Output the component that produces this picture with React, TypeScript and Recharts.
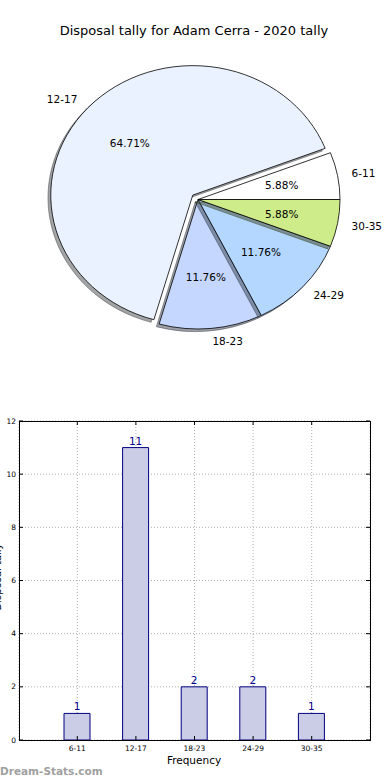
import React from 'react';
import { PieChart, Pie, BarChart, Bar, XAxis, YAxis, CartesianGrid, LabelList } from 'recharts';

const CATEGORIES = ['6-11', '12-17', '18-23', '24-29', '30-35'];
const COUNTS = [1, 11, 2, 2, 1];
const SLICE_COLORS = ['#ffffff', '#ebf2ff', '#c5d7ff', '#b4d7ff', '#cfec8a'];
const EXPLODE = [0, 0.05, 0, 0, 0];
const Y_TICKS = [0, 2, 4, 6, 8, 10, 12];

const TITLE = 'Disposal tally for Adam Cerra - 2020 tally';
const FONT = '"DejaVu Sans", sans-serif';

// pie geometry (matplotlib draws it as an ellipse here); recharts adds a 5px margin
const PIE_CX = 193;
const PIE_CY = 194.5;
const RX = 142;
const RY = 129.5;
const K = RY / RX;

// bar chart plot box
const PLOT_LEFT = 19;
const PLOT_RIGHT = 370;
const PLOT_TOP = 21;
const PLOT_BOTTOM = 340;

const pieData = CATEGORIES.map((name, i) => ({
  name,
  value: COUNTS[i],
  fill: SLICE_COLORS[i],
  explode: EXPLODE[i],
}));

const barData = CATEGORIES.map((name, i) => ({ name, value: COUNTS[i] }));

const RAD = Math.PI / 180;

const wedgePath = (cx: number, cy: number, rx: number, ry: number, a0: number, a1: number) => {
  const x1 = cx + rx * Math.cos(a0 * RAD);
  const y1 = cy - ry * Math.sin(a0 * RAD);
  const x2 = cx + rx * Math.cos(a1 * RAD);
  const y2 = cy - ry * Math.sin(a1 * RAD);
  const large = a1 - a0 > 180 ? 1 : 0;
  return `M${cx},${cy} L${x1},${y1} A${rx},${ry} 0 ${large} 0 ${x2},${y2} Z`;
};

const origin = (props: any) => {
  const ex = (props.payload?.explode ?? props.explode ?? 0) * RX;
  const m = props.midAngle * RAD;
  return {
    ox: props.cx + ex * Math.cos(m),
    oy: props.cy - ex * K * Math.sin(m),
  };
};

const shade = (hex: string) => {
  const n = parseInt(hex.slice(1), 16);
  const r = Math.round(((n >> 16) & 255) * 0.3);
  const g = Math.round(((n >> 8) & 255) * 0.3);
  const b = Math.round((n & 255) * 0.3);
  return `rgb(${r},${g},${b})`;
};

// each wedge is drawn with its own shadow first, so later shadows lie on earlier wedges
const Wedge = (props: any) => {
  const { ox, oy } = origin(props);
  const fill = props.payload?.fill ?? props.fill;
  const c = shade(fill);
  return (
    <g>
      <path
        d={wedgePath(ox - 2.8, oy + 2.6, RX, RY, props.startAngle, props.endAngle)}
        fill={c}
        stroke={c}
        strokeWidth={1}
        fillOpacity={0.5}
        strokeOpacity={0.5}
      />
      <path
        d={wedgePath(ox, oy, RX, RY, props.startAngle, props.endAngle)}
        fill={fill}
        stroke="#000"
        strokeWidth={0.8}
        strokeLinejoin="round"
      />
    </g>
  );
};

const renderPieLabel = (props: any) => {
  const { ox, oy } = origin(props);
  const m = props.midAngle * RAD;
  const c = Math.cos(m);
  const s = Math.sin(m);
  const lx = ox + 1.1 * RX * c;
  const ly = oy - 1.1 * RY * s;
  const px = ox + 0.6 * RX * c;
  const py = oy - 0.6 * RY * s;
  return (
    <g key={`lbl-${props.name}`}>
      <text x={lx} y={ly} textAnchor={c > 0 ? 'start' : 'end'} dominantBaseline="central"
        fontSize={10.5} fontFamily={FONT} fill="#000">
        {props.name}
      </text>
      <text x={px} y={py} textAnchor="middle" dominantBaseline="central"
        fontSize={10.5} fontFamily={FONT} fill="#000">
        {`${((props.percent || 0) * 100).toFixed(2)}%`}
      </text>
    </g>
  );
};

const YTick = (props: any) => {
  const { x, y, payload } = props;
  return (
    <g>
      <text x={x} y={y} textAnchor="end" dominantBaseline="central" fontSize={7.5} fontFamily={FONT} fill="#000">
        {payload.value}
      </text>
      <line x1={PLOT_LEFT} x2={PLOT_LEFT + 4} y1={y} y2={y} stroke="#000" strokeWidth={1} />
      <line x1={PLOT_RIGHT - 4} x2={PLOT_RIGHT} y1={y} y2={y} stroke="#000" strokeWidth={1} />
    </g>
  );
};

const XTick = (props: any) => {
  const { x, payload } = props;
  return (
    <g>
      <text x={x} y={PLOT_BOTTOM + 8} textAnchor="middle" dominantBaseline="central" fontSize={7.5} fontFamily={FONT} fill="#000">
        {payload.value}
      </text>
      <line x1={x} x2={x} y1={PLOT_BOTTOM - 4} y2={PLOT_BOTTOM} stroke="#000" strokeWidth={1} />
      <line x1={x} x2={x} y1={PLOT_TOP} y2={PLOT_TOP + 4} stroke="#000" strokeWidth={1} />
    </g>
  );
};

const App: React.FC = () => {
  return (
    <div style={{ position: 'absolute', left: 0, top: 0, width: 390, height: 780, background: '#fff', fontFamily: FONT }}>
      <div style={{ position: 'absolute', left: 0, top: 0 }}>
        <PieChart width={390} height={380}>
          <Pie
            data={pieData}
            dataKey="value"
            nameKey="name"
            cx={PIE_CX}
            cy={PIE_CY}
            outerRadius={RX}
            startAngle={0}
            endAngle={360}
            shape={Wedge}
            label={renderPieLabel}
            labelLine={false}
            isAnimationActive={false}
          />
        </PieChart>
      </div>

      <div style={{ position: 'absolute', left: 0, top: 400 }}>
        <BarChart width={390} height={380} data={barData} margin={{ top: PLOT_TOP, right: 390 - PLOT_RIGHT, bottom: 0, left: 0 }}>
          <CartesianGrid stroke="#b0b0b0" strokeDasharray="1 2" />
          <XAxis
            dataKey="name"
            height={40}
            padding={{ left: 29, right: 29 }}
            axisLine={false}
            tickLine={false}
            tick={<XTick />}
            interval={0}
          />
          <YAxis
            width={PLOT_LEFT}
            domain={[0, 12]}
            ticks={Y_TICKS}
            axisLine={false}
            tickLine={false}
            tickSize={0}
            tickMargin={3}
            tick={<YTick />}
            interval={0}
          />
          <Bar dataKey="value" barSize={26} fill="#cbcce5" stroke="#000080" strokeWidth={1} isAnimationActive={false}>
            <LabelList dataKey="value" position="top" offset={3} fill="#00008b" fontSize={10.5} fontFamily={FONT} />
          </Bar>
        </BarChart>
        <div style={{
          position: 'absolute', left: PLOT_LEFT, top: PLOT_TOP, width: PLOT_RIGHT - PLOT_LEFT - 1,
          height: PLOT_BOTTOM - PLOT_TOP - 1, border: '1px solid #000', pointerEvents: 'none',
        }} />
      </div>

      <svg width={390} height={780} style={{ position: 'absolute', left: 0, top: 0, pointerEvents: 'none' }}>
        <text x={194} y={30} textAnchor="middle" dominantBaseline="central" fontSize={13} fontFamily={FONT} fill="#000">
          {TITLE}
        </text>
        <text x={1} y={577} transform="rotate(-90, 1, 577)" textAnchor="middle" fontSize={10} fontFamily={FONT} fill="#000">
          Disposal tally
        </text>
        <text x={194} y={760} textAnchor="middle" dominantBaseline="central" fontSize={10.5} fontFamily={FONT} fill="#000">
          Frequency
        </text>
        <text x={0} y={775} fontSize={10.5} fontWeight="bold" fontFamily={FONT} fill="#a0a0a0">
          Dream-Stats.com
        </text>
      </svg>
    </div>
  );
};

export default App;
